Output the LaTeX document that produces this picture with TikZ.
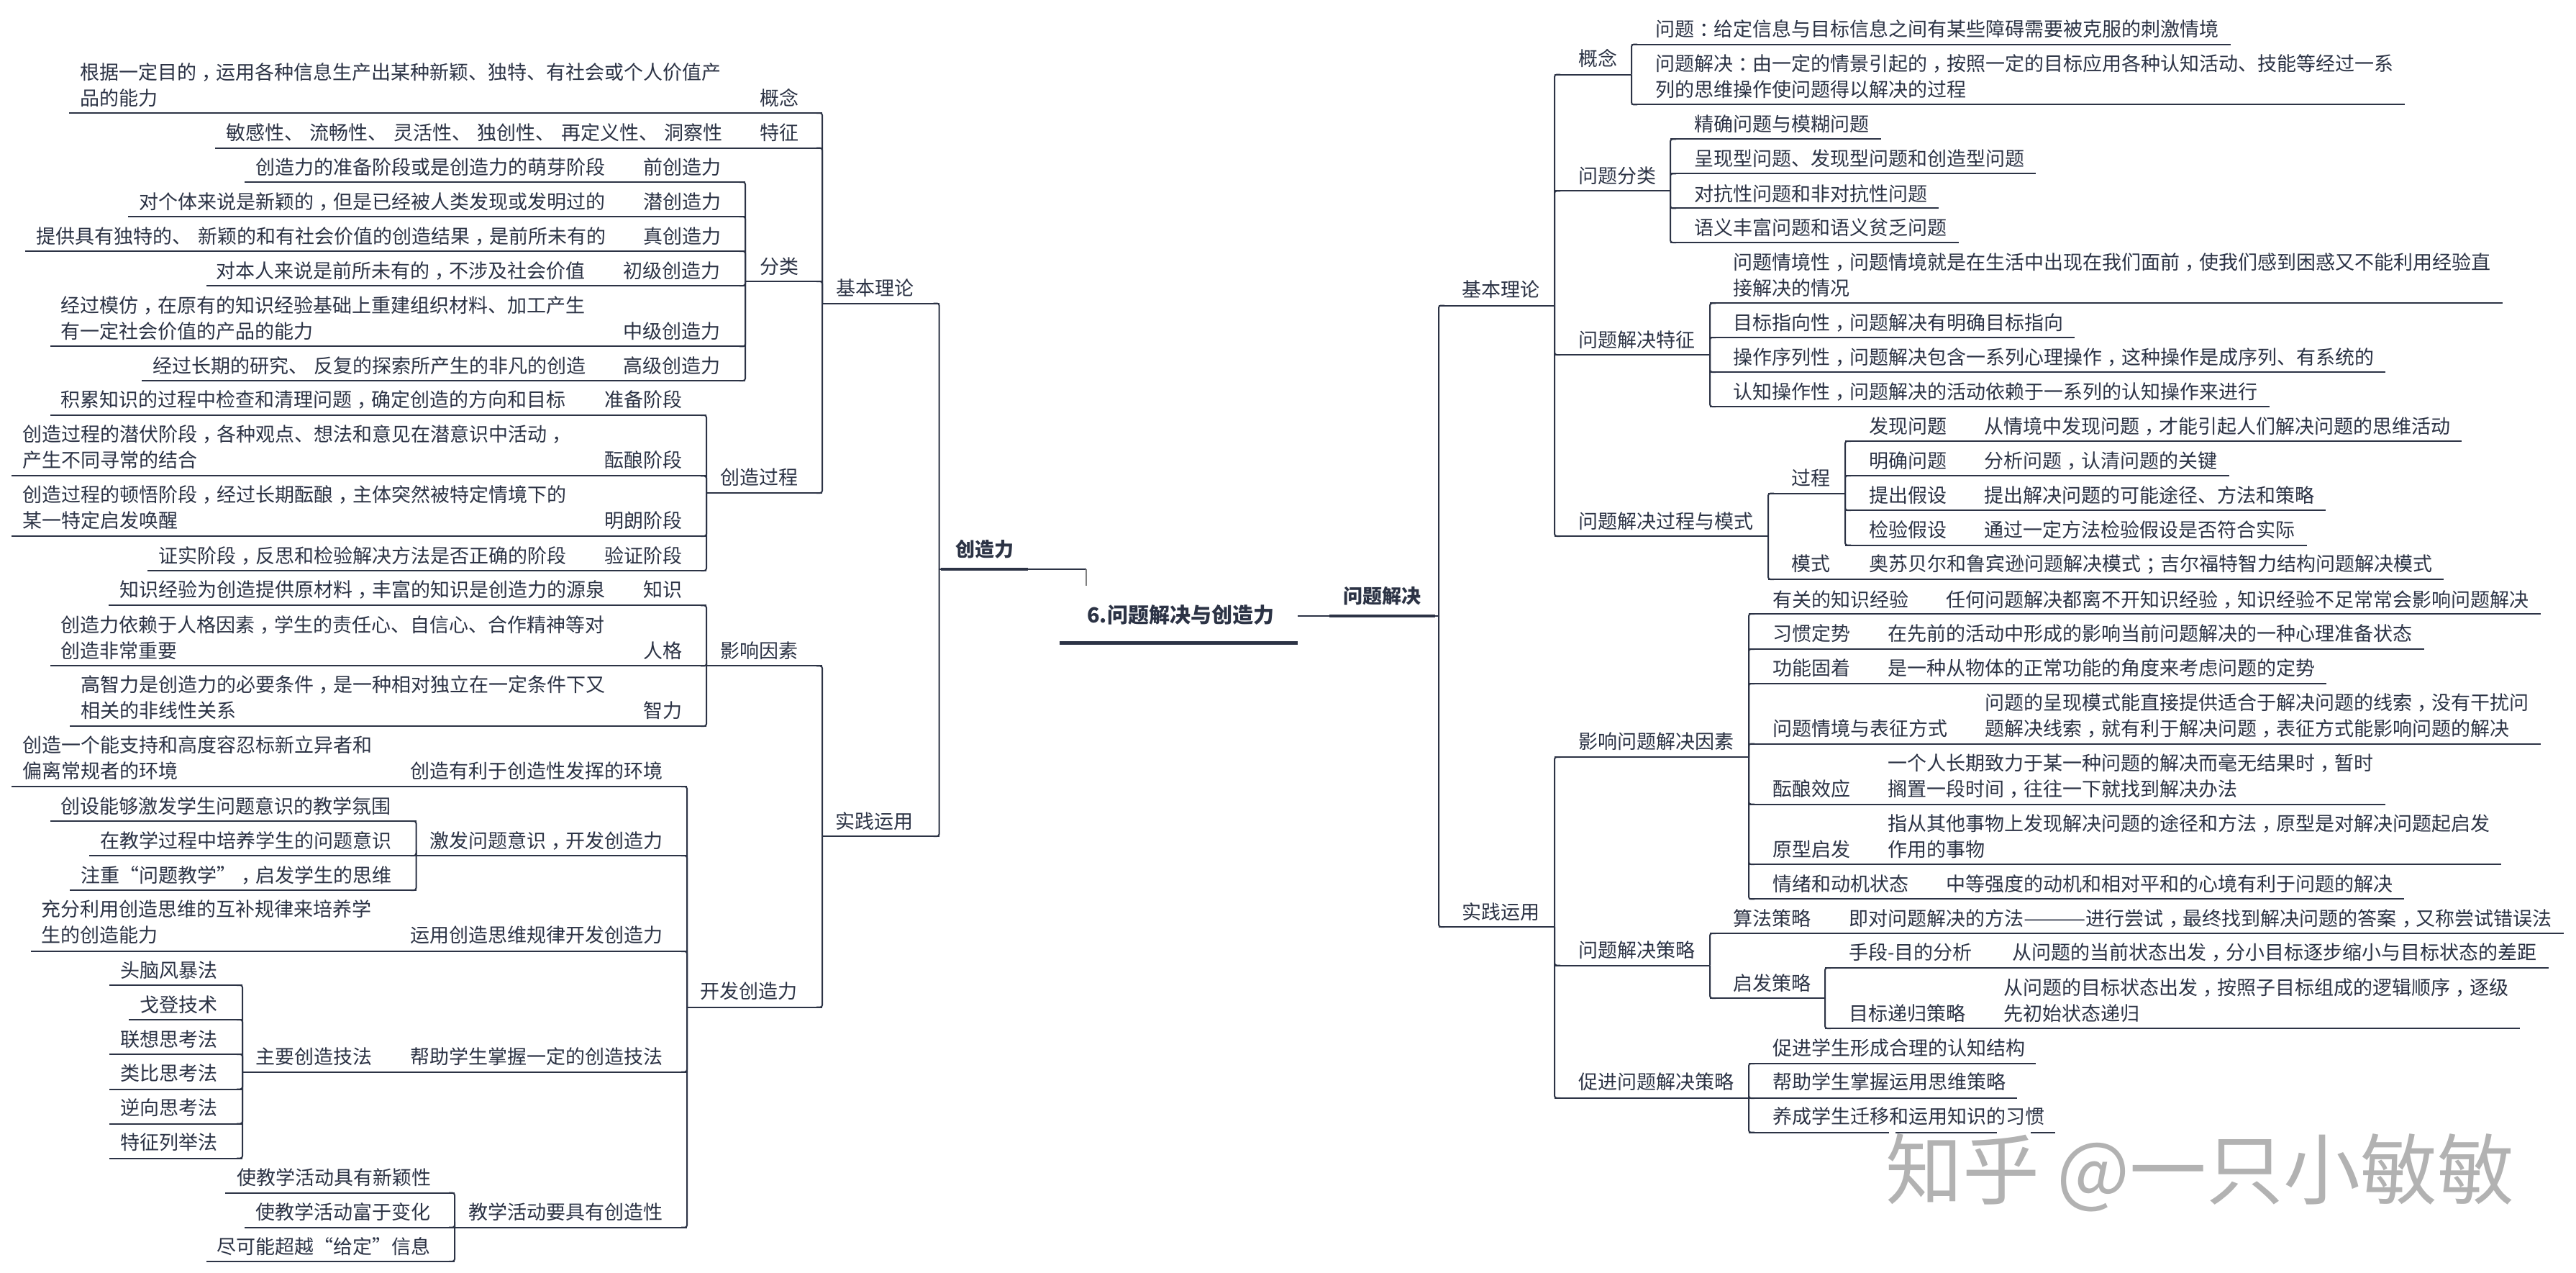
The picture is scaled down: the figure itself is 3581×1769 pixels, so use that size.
\documentclass[tikz,border=0pt]{standalone}
\usepackage{fontspec}
\setmainfont{Noto Sans CJK SC}
\definecolor{ink}{HTML}{2C3345}
\newcommand{\midp}[1]{\kern.28em\char#1\relax\kern-.28em\relax}
\newcommand{\txfont}{\fontsize{27}{36}\selectfont\setlength{\spaceskip}{8.5pt}}
\catcode`，=\active \def，{\midp{"FF0C}}
\catcode`：=\active \def：{\midp{"FF1A}}
\catcode`；=\active \def；{\midp{"FF1B}}
\newcommand{\ul}[4]{\coordinate (#1w) at (#2,#4); \coordinate (#1e) at (#3,#4); \draw[uline] (#1w) -- (#1e);}
\newcommand{\tx}[4]{\node[tlabel] (#1) at (#2,{#3+22.3}) {#4\strut};}
\newcommand{\cl}[2]{\draw[conn] (#1w) -- (#2e) -- ++(-8,0);}
\newcommand{\cc}[2]{\draw[conn] (#1e) -- (#2w) -- ++(8,0);}
\tikzset{
  uline/.style={draw=ink,line width=2pt},
  conn/.style={draw=ink,line width=2pt,rounded corners=3pt},
  thick bar/.style={draw=ink,line width=4.2pt},
  tlabel/.style={anchor=south west,inner sep=0pt,align=left,text=ink,font=\txfont},
  heading/.style={anchor=base west,inner sep=0pt,text=ink,font=\fontsize{27}{36}\selectfont\bfseries},
}
\begin{document}
\begin{tikzpicture}[x=1pt,y=-1pt]
\useasboundingbox (0,0) rectangle (3581,1769);
\fill[white] (0,0) rectangle (3581,1769);
% ---- root
\coordinate (rootw) at (1473,893); \coordinate (roote) at (1804,893);
\draw[draw=ink,line width=5pt] (rootw) -- (roote);
\node[heading,font=\fontsize{29}{36}\selectfont\bfseries] (root) at (1511,865) {6.问题解决与创造力};
% ---- left main
\ul{cz}{1305.6}{1510}{791}
\draw[thick bar] (1308,791) -- (1429,791);
\coordinate (czd) at (1510,814);
\draw[draw=gray,line width=2pt] (cze) -- (czd);
\node[heading] (czt) at (1328,773) {创造力};
% ---- right main
\coordinate (wjs) at (1804,856);
\ul{wj}{1804}{2000}{856}
\draw[thick bar] (1848,856) -- (1995,856);
\node[heading] (wjt) at (1867,838) {问题解决};
% ====== LEFT: 基本理论
\ul{a}{1143}{1305.6}{421.5} \tx{at}{1162}{399}{基本理论}
\cl{cz}{a}
\ul{a1}{96}{1143}{157} \tx{a1t}{111}{135}{根据一定目的，运用各种信息生产出某种新颖、独特、有社会或个人价值产\\品的能力} \tx{a1l}{1056}{135}{概念}
\ul{a2}{299}{1143}{205.7} \tx{a2t}{314}{183}{敏感性、 流畅性、 灵活性、 独创性、 再定义性、 洞察性} \tx{a2l}{1056}{183}{特征}
\ul{a3}{1036}{1143}{391} \tx{a3l}{1056}{369}{分类}
\ul{a4}{982}{1143}{685} \tx{a4l}{1001}{662}{创造过程}
\cl{a}{a1} \cl{a}{a2} \cl{a}{a3} \cl{a}{a4}
% 分类
\ul{b1}{340}{1036}{253} \tx{b1t}{355}{231}{创造力的准备阶段或是创造力的萌芽阶段} \tx{b1l}{894}{231}{前创造力}
\ul{b2}{178}{1036}{301} \tx{b2t}{193}{279}{对个体来说是新颖的，但是已经被人类发现或发明过的} \tx{b2l}{894}{279}{潜创造力}
\ul{b3}{35}{1036}{349} \tx{b3t}{50.5}{327}{提供具有独特的、 新颖的和有社会价值的创造结果，是前所未有的} \tx{b3l}{894}{327}{真创造力}
\ul{b4}{287}{1036}{397} \tx{b4t}{300}{375}{对本人来说是前所未有的，不涉及社会价值} \tx{b4l}{866}{375}{初级创造力}
\ul{b5}{70}{1036}{481.4} \tx{b5t}{84}{459}{经过模仿，在原有的知识经验基础上重建组织材料、加工产生\\有一定社会价值的产品的能力} \tx{b5l}{866}{459}{中级创造力}
\ul{b6}{197}{1036}{529} \tx{b6t}{212}{507}{经过长期的研究、 反复的探索所产生的非凡的创造} \tx{b6l}{866}{507}{高级创造力}
\cl{a3}{b1} \cl{a3}{b2} \cl{a3}{b3} \cl{a3}{b4} \cl{a3}{b5} \cl{a3}{b6}
% 创造过程
\ul{c1}{70}{982}{577} \tx{c1t}{84}{554.6}{积累知识的过程中检查和清理问题，确定创造的方向和目标} \tx{c1l}{840}{554.6}{准备阶段}
\ul{c2}{16}{982}{661.4} \tx{c2t}{31}{638.6}{创造过程的潜伏阶段，各种观点、想法和意见在潜意识中活动，\\产生不同寻常的结合} \tx{c2l}{840}{638.6}{酝酿阶段}
\ul{c3}{16}{982}{745} \tx{c3t}{31}{722.5}{创造过程的顿悟阶段，经过长期酝酿，主体突然被特定情境下的\\某一特定启发唤醒} \tx{c3l}{840}{722.5}{明朗阶段}
\ul{c4}{205}{982}{793} \tx{c4t}{220}{770.7}{证实阶段，反思和检验解决方法是否正确的阶段} \tx{c4l}{840}{770.7}{验证阶段}
\cl{a4}{c1} \cl{a4}{c2} \cl{a4}{c3} \cl{a4}{c4}
% ====== LEFT: 实践运用
\ul{d}{1143}{1305.6}{1162} \tx{dt}{1161}{1140}{实践运用}
\cl{cz}{d}
\ul{d1}{982}{1143}{925.4} \tx{d1l}{1001}{903}{影响因素}
\ul{d2}{955}{1143}{1399.7} \tx{d2l}{973}{1376.6}{开发创造力}
\cl{d}{d1} \cl{d}{d2}
\ul{e1}{151}{982}{841.4} \tx{e1t}{166}{818.6}{知识经验为创造提供原材料，丰富的知识是创造力的源泉} \tx{e1l}{894}{818.6}{知识}
\ul{e2}{70}{982}{925.4} \tx{e2t}{84}{903}{创造力依赖于人格因素，学生的责任心、自信心、合作精神等对\\创造非常重要} \tx{e2l}{894}{903}{人格}
\ul{e3}{97}{982}{1009} \tx{e3t}{112}{986.4}{高智力是创造力的必要条件，是一种相对独立在一定条件下又\\相关的非线性关系} \tx{e3l}{894}{986.4}{智力}
\cl{d1}{e1} \cl{d1}{e2} \cl{d1}{e3}
% 开发创造力
\ul{f1}{16}{955}{1093} \tx{f1t}{31}{1070}{创造一个能支持和高度容忍标新立异者和\\偏离常规者的环境} \tx{f1l}{570}{1070}{创造有利于创造性发挥的环境}
\ul{f2}{578.5}{955}{1189} \tx{f2l}{597}{1167}{激发问题意识，开发创造力}
\ul{f3}{43}{955}{1322} \tx{f3t}{57.4}{1298}{充分利用创造思维的互补规律来培养学\\生的创造能力} \tx{f3l}{570}{1298}{运用创造思维规律开发创造力}
\ul{f4}{337}{955}{1489.5} \tx{f4l}{570}{1467}{帮助学生掌握一定的创造技法} \tx{f4m}{355}{1467}{主要创造技法}
\ul{f5}{632}{955}{1705.7} \tx{f5l}{651}{1683}{教学活动要具有创造性}
\cl{d2}{f1} \cl{d2}{f2} \cl{d2}{f3} \cl{d2}{f4} \cl{d2}{f5}
\ul{g1}{70}{578.5}{1141} \tx{g1t}{84}{1119}{创设能够激发学生问题意识的教学氛围}
\ul{g2}{124}{578.5}{1189} \tx{g2t}{139}{1167}{在教学过程中培养学生的问题意识}
\ul{g3}{97}{578.5}{1237} \tx{g3t}{112}{1215}{注重“问题教学”，启发学生的思维}
\cl{f2}{g1} \cl{f2}{g2} \cl{f2}{g3}
\ul{h1}{152}{337}{1369} \tx{h1t}{167}{1347}{头脑风暴法}
\ul{h2}{179}{337}{1417} \tx{h2t}{194}{1395}{戈登技术}
\ul{h3}{152}{337}{1465} \tx{h3t}{167}{1443}{联想思考法}
\ul{h4}{152}{337}{1513.5} \tx{h4t}{167}{1490}{类比思考法}
\ul{h5}{152}{337}{1561.5} \tx{h5t}{167}{1538}{逆向思考法}
\ul{h6}{152}{337}{1609.6} \tx{h6t}{167}{1586}{特征列举法}
\cl{f4}{h1} \cl{f4}{h2} \cl{f4}{h3} \cl{f4}{h4} \cl{f4}{h5} \cl{f4}{h6}
\ul{i1}{313}{632}{1657.7} \tx{i1t}{329}{1635}{使教学活动具有新颖性}
\ul{i2}{340}{632}{1705.7} \tx{i2t}{355}{1683}{使教学活动富于变化}
\ul{i3}{287}{632}{1752.8} \tx{i3t}{301}{1731}{尽可能超越“给定”信息}
\cl{f5}{i1} \cl{f5}{i2} \cl{f5}{i3}
% ====== RIGHT: 基本理论
\ul{A}{2000}{2161}{424.5} \tx{At}{2032}{401}{基本理论}
\ul{B}{2000}{2161}{1288} \tx{Bt}{2032}{1266}{实践运用}
\cc{wj}{A} \cc{wj}{B}
\ul{A1}{2161}{2268}{103.6} \tx{A1t}{2194.5}{80}{概念}
\ul{A2}{2161}{2322}{265.3} \tx{A2t}{2194.5}{243}{问题分类}
\ul{A3}{2161}{2377}{493} \tx{A3t}{2194.5}{471}{问题解决特征}
\ul{A4}{2161}{2458}{745} \tx{A4t}{2194.5}{723}{问题解决过程与模式}
\cc{A}{A1} \cc{A}{A2} \cc{A}{A3} \cc{A}{A4}
\ul{C1}{2268}{3101}{61.7} \tx{C1t}{2301}{39}{问题：给定信息与目标信息之间有某些障碍需要被克服的刺激情境}
\ul{C2}{2268}{3343}{145.4} \tx{C2t}{2301}{123.5}{问题解决：由一定的情景引起的，按照一定的目标应用各种认知活动、技能等经过一系\\列的思维操作使问题得以解决的过程}
\cc{A1}{C1} \cc{A1}{C2}
\ul{D1}{2322}{2615}{193.4} \tx{D1t}{2355}{171}{精确问题与模糊问题}
\ul{D2}{2322}{2830}{241.3} \tx{D2t}{2355}{219}{呈现型问题、发现型问题和创造型问题}
\ul{D3}{2322}{2695}{289.3} \tx{D3t}{2355}{268}{对抗性问题和非对抗性问题}
\ul{D4}{2322}{2723}{337} \tx{D4t}{2355}{315}{语义丰富问题和语义贫乏问题}
\cc{A2}{D1} \cc{A2}{D2} \cc{A2}{D3} \cc{A2}{D4}
\ul{E1}{2377}{3479}{421.4} \tx{E1t}{2409}{399.5}{问题情境性，问题情境就是在生活中出现在我们面前，使我们感到困惑又不能利用经验直\\接解决的情况}
\ul{E2}{2377}{2884}{469} \tx{E2t}{2409}{447}{目标指向性，问题解决有明确目标指向}
\ul{E3}{2377}{3316}{517} \tx{E3t}{2409}{495}{操作序列性，问题解决包含一系列心理操作，这种操作是成序列、有系统的}
\ul{E4}{2377}{3155}{565} \tx{E4t}{2409}{543}{认知操作性，问题解决的活动依赖于一系列的认知操作来进行}
\cc{A3}{E1} \cc{A3}{E2} \cc{A3}{E3} \cc{A3}{E4}
\ul{F1}{2458}{2565}{685.7} \tx{F1t}{2490}{663}{过程}
\ul{F2}{2458}{3397}{805} \tx{F2t}{2490}{782}{模式} \tx{F2d}{2598}{782}{奥苏贝尔和鲁宾逊问题解决模式；吉尔福特智力结构问题解决模式}
\cc{A4}{F1} \cc{A4}{F2}
\ul{G1}{2565}{3422}{613} \tx{G1t}{2598}{591}{发现问题} \tx{G1d}{2758}{591}{从情境中发现问题，才能引起人们解决问题的思维活动}
\ul{G2}{2565}{3099}{661} \tx{G2t}{2598}{639}{明确问题} \tx{G2d}{2758}{639}{分析问题，认清问题的关键}
\ul{G3}{2565}{3233}{709} \tx{G3t}{2598}{687}{提出假设} \tx{G3d}{2758}{687}{提出解决问题的可能途径、方法和策略}
\ul{G4}{2565}{3207}{757.6} \tx{G4t}{2598}{735}{检验假设} \tx{G4d}{2758}{735}{通过一定方法检验假设是否符合实际}
\cc{F1}{G1} \cc{F1}{G2} \cc{F1}{G3} \cc{F1}{G4}
% ====== RIGHT: 实践运用
\ul{B1}{2161}{2431}{1052} \tx{B1t}{2194.5}{1029}{影响问题解决因素}
\ul{B2}{2161}{2377}{1341.5} \tx{B2t}{2194.5}{1319}{问题解决策略}
\ul{B3}{2161}{2431}{1525.8} \tx{B3t}{2194.5}{1502}{促进问题解决策略}
\cc{B}{B1} \cc{B}{B2} \cc{B}{B3}
\ul{H1}{2431}{3532}{853} \tx{H1t}{2464}{832}{有关的知识经验} \tx{H1d}{2705}{832}{任何问题解决都离不开知识经验，知识经验不足常常会影响问题解决}
\ul{H2}{2431}{3370}{902} \tx{H2t}{2464}{879}{习惯定势} \tx{H2d}{2624}{879}{在先前的活动中形成的影响当前问题解决的一种心理准备状态}
\ul{H3}{2431}{3234}{950} \tx{H3t}{2464}{927}{功能固着} \tx{H3d}{2624}{927}{是一种从物体的正常功能的角度来考虑问题的定势}
\ul{H4}{2431}{3532}{1033.6} \tx{H4t}{2464}{1011.5}{问题情境与表征方式} \tx{H4d}{2759}{1011.5}{问题的呈现模式能直接提供适合于解决问题的线索，没有干扰问\\题解决线索，就有利于解决问题，表征方式能影响问题的解决}
\ul{H5}{2431}{3316}{1117.5} \tx{H5t}{2464}{1095}{酝酿效应} \tx{H5d}{2624}{1095}{一个人长期致力于某一种问题的解决而毫无结果时，暂时\\搁置一段时间，往往一下就找到解决办法}
\ul{H6}{2431}{3477}{1201} \tx{H6t}{2464}{1179}{原型启发} \tx{H6d}{2624}{1179}{指从其他事物上发现解决问题的途径和方法，原型是对解决问题起启发\\作用的事物}
\ul{H7}{2431}{3342}{1249.4} \tx{H7t}{2464}{1227}{情绪和动机状态} \tx{H7d}{2705}{1227}{中等强度的动机和相对平和的心境有利于问题的解决}
\cc{B1}{H1} \cc{B1}{H2} \cc{B1}{H3} \cc{B1}{H4} \cc{B1}{H5} \cc{B1}{H6} \cc{B1}{H7}
\ul{J1}{2377}{3564}{1297} \tx{J1t}{2409}{1275}{算法策略} \tx{J1d}{2570}{1275}{即对问题解决的方法\scalebox{1.3}[1]{———}进行尝试，最终找到解决问题的答案，又称尝试错误法}
\ul{J2}{2377}{2537}{1387} \tx{J2t}{2409}{1365}{启发策略}
\cc{B2}{J1} \cc{B2}{J2}
\ul{K1}{2537}{3543}{1345} \tx{K1t}{2570}{1322.6}{手段-目的分析} \tx{K1d}{2797}{1322.6}{从问题的当前状态出发，分小目标逐步缩小与目标状态的差距}
\ul{K2}{2537}{3503}{1429} \tx{K2t}{2570}{1407}{目标递归策略} \tx{K2d}{2785}{1407}{从问题的目标状态出发，按照子目标组成的逻辑顺序，逐级\\先初始状态递归}
\cc{J2}{K1} \cc{J2}{K2}
\ul{M1}{2431}{2830}{1478} \tx{M1t}{2464}{1455}{促进学生形成合理的认知结构}
\ul{M2}{2431}{2804}{1526} \tx{M2t}{2464}{1502}{帮助学生掌握运用思维策略}
\ul{M3}{2431}{2857}{1573.7} \tx{M3t}{2464}{1550}{养成学生迁移和运用知识的习惯}
\cc{B3}{M1} \cc{B3}{M2} \cc{B3}{M3}
% watermark: its white halo cuts the line above it
\draw[white,line width=3.5pt] (2626,1573.7) -- (2635,1573.7) (2776,1573.7) -- (2823,1573.7);
\node[anchor=base west,inner sep=0pt,text=black!30,font=\fontsize{107}{110}\selectfont] (mark) at (2621,1665) {知乎 @一只小敏敏};
\end{tikzpicture}
\end{document}
